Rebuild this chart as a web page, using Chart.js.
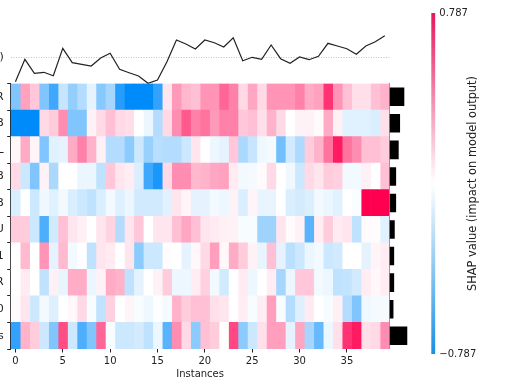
<!DOCTYPE html>
<html>
<head>
<meta charset="utf-8">
<script src="https://cdn.jsdelivr.net/npm/chart.js@4"></script>
<style>
html, body { margin: 0; padding: 0; background: #fff; overflow: hidden; }
#wrap { position: relative; width: 514px; height: 390px; filter: blur(0.3px); }
canvas { position: absolute; }
</style>
</head>
<body>
<div id="wrap">
  <canvas id="lineChart" width="390" height="64" style="left:0;top:20px"></canvas>
  <canvas id="heatChart" width="390" height="320" style="left:0;top:70px"></canvas>
  <canvas id="barChart" width="40" height="266" style="left:389px;top:83px"></canvas>
  <canvas id="colorChart" width="89" height="390" style="left:425px;top:0"></canvas>
</div>
<script>
var shapMax = 0.787;
var rowLabels = ['R', 'B', 'L', 'B', 'B', 'U', '1', 'R', '0', 's'];
var instanceTicks = [0, 5, 10, 15, 20, 25, 30, 35];
var colorbarLabel = 'SHAP value (impact on model output)';

// model output per instance, relative to the base value
var modelOutput = [-2.44, -0.2, -1.6, -1.5, -1.84, 0.9, -0.54, -0.7, -0.87, -0.07,
    0.4, -1.2, -1.54, -1.87, -2.6, -2.27, -0.44, 1.73, 1.33, 0.83,
    1.73, 1.46, 1.03, 1.96, -0.34, 0, -0.2, 1.23, -0.14, -0.6,
    0.03, -0.24, 0.1, 1.4, 1.13, 0.86, 0.3, 1.13, 1.56, 2.16];
var baseValue = 0;

// mean |SHAP| per feature
var meanAbs = [0.15, 0.107, 0.093, 0.067, 0.067, 0.053, 0.047, 0.047, 0.04, 0.18];

// SHAP per instance, as a fraction of shapMax
var row0 = [-0.5, 0.37, 0.22, -0.5, -0.75, -0.22, -0.42, -0.3, -0.1, -0.47, -0.35, -0.85, -1, -1, -1, -0.8, 0.1, 0.4, 0.28, 0.25, 0.42, 0.42, 0.6, 0.5, 0.15, 0.35, 0.15, 0.42, 0.42, 0.42, 0.5, 0.33, 0.37, 0.8, 0.42, 0.25, 0.12, 0.12, 0.25, 0.3];
var row1 = [-1, -1, -1, 0.15, 0.2, 0.45, -0.5, -0.5, 0.05, 0.15, 0.25, 0.15, 0.13, 0, -0.08, -0.3, 0.15, 0.45, 0.65, 0.5, 0.55, 0.4, 0.5, 0.5, 0.22, 0.25, 0.12, 0.3, 0.15, 0, 0.05, 0.05, 0.02, 0.33, 0.05, -0.12, -0.12, -0.12, -0.15, 0.12];
var row2 = [0.03, 0.33, 0.04, -0.5, -0.12, -0.1, 0.33, 0.5, 0.3, 0.06, -0.3, -0.3, -0.45, -0.2, -0.4, -0.28, -0.3, -0.3, -0.2, 0.1, 0, -0.07, -0.1, 0.22, -0.33, -0.22, -0.06, -0.04, -0.55, -0.18, -0.32, 0.2, 0.3, 0.55, 0.9, 0.55, 0.45, 0.25, 0.25, 0.2];
var row3 = [0.15, -0.2, -0.5, 0.05, -0.33, 0, 0, -0.08, -0.08, -0.25, 0.22, 0.1, 0.07, -0.15, -0.75, -0.9, 0.15, 0.45, 0.45, 0.28, 0.3, 0.35, 0.37, 0.08, -0.05, -0.04, 0.02, 0.15, 0, -0.06, -0.2, 0.15, 0.1, 0.2, 0.18, -0.05, -0.05, 0.06, 0, 0.25];
var row4 = [-0.15, 0, -0.2, -0.06, -0.12, -0.05, -0.15, -0.2, -0.25, -0.15, -0.05, -0.13, -0.08, -0.18, -0.18, -0.18, -0.12, 0.1, 0.04, -0.1, -0.1, -0.05, -0.07, 0.05, -0.15, 0.04, -0.09, -0.09, 0, -0.15, -0.17, -0.14, -0.05, -0.08, -0.12, 0, -0.02, 1, 1, 1];
var row5 = [0.2, 0.2, -0.2, -0.7, -0.18, 0.25, 0.1, 0.06, 0, 0.1, 0.17, -0.3, 0.1, 0.22, 0, 0.1, 0.1, 0.25, 0.35, 0.25, 0.1, 0.08, 0.06, 0.05, -0.03, -0.03, -0.38, -0.38, 0.1, 0.02, 0.05, -0.65, 0.07, 0.2, 0.08, 0.1, -0.25, 0.02, 0.01, -0.12];
var row6 = [0, 0.27, 0, 0.42, -0.1, 0.27, -0.05, 0, -0.25, 0.1, 0.08, 0, 0.1, -0.45, -0.2, -0.2, 0.01, 0, -0.1, 0.03, 0.15, 0.38, 0.03, 0.33, 0.2, 0.05, -0.09, 0.25, -0.1, -0.27, -0.2, -0.08, -0.05, -0.2, -0.18, 0, 0, -0.1, 0.04, 0.07];
var row7 = [0, 0.08, 0, -0.25, 0.06, -0.09, 0.32, 0.32, -0.08, 0.05, 0.33, 0.3, -0.25, -0.1, 0, 0.05, 0.2, -0.07, -0.07, 0.07, 0.18, -0.05, -0.18, 0, 0.08, -0.07, 0, 0.07, -0.35, -0.08, 0.22, 0.22, -0.05, -0.07, -0.25, -0.23, -0.18, 0.07, 0.03, 0.07];
var row8 = [0.02, 0.1, -0.2, -0.05, -0.13, 0, 0.03, 0.15, -0.03, -0.25, 0.18, 0, 0.04, -0.03, -0.06, -0.01, -0.04, 0.3, 0.2, 0.25, 0.25, 0.12, 0.1, 0, 0.07, -0.03, 0.07, 0.38, -0.03, -0.3, -0.13, 0.08, 0, -0.03, 0.06, -0.3, -0.5, -0.06, -0.04, -0.04];
var row9 = [-0.8, 0.3, 0.2, -0.2, -0.5, 0.7, -0.2, -0.7, -0.5, 0.6, -0.03, -0.2, -0.2, -0.17, -0.25, -0.07, -0.65, 0.45, 0.15, -0.45, 0.25, 0.2, 0, 0.72, -0.45, -0.2, 0.12, 0.38, 0.38, -0.1, 0.35, -0.35, -0.6, -0.07, 0.12, 0.8, 0.9, 0.12, 0.15, 0.45];
var heatRows = [row0, row1, row2, row3, row4, row5, row6, row7, row8, row9];

Chart.defaults.font.family = '"DejaVu Sans", sans-serif';
Chart.defaults.font.size = 10;
Chart.defaults.color = '#222';
Chart.defaults.animation = false;
Chart.defaults.responsive = false;
Chart.defaults.plugins.legend.display = false;
Chart.defaults.plugins.tooltip.enabled = false;

function shapColor(t) {
    var c = t >= 0 ? [255, 0, 81] : [0, 139, 251];
    var a = Math.min(Math.abs(t), 1);
    return 'rgb(' + c.map(function (v) { return Math.round(255 + (v - 255) * a); }).join(',') + ')';
}

var instances = modelOutput.map(function (v, i) { return i; });

new Chart(document.getElementById('lineChart'), {
    type: 'line',
    data: {
        datasets: [{
            data: instances.map(function (x) { return { x: x, y: modelOutput[x] }; }),
            borderColor: '#222',
            borderWidth: 1.2,
            pointRadius: 0,
            tension: 0
        }]
    },
    options: {
        layout: { padding: { top: 10, right: 0.5 } },
        scales: {
            x: { type: 'linear', min: -0.5, max: 39.5, display: false },
            y: {
                min: -2.67,
                max: 2.73,
                afterFit: function (s) {
                    s.width = 10.7;
                    s.paddingTop = 0;
                    s.paddingBottom = 0;
                },
                afterBuildTicks: function (s) { s.ticks = [{ value: baseValue }]; },
                ticks: {
                    padding: 7,
                    callback: function () { return 'f(x)'; },
                    font: { size: 11 }
                },
                border: { display: false, dash: [1, 1.5] },
                grid: { color: '#aaa', lineWidth: 0.7, drawTicks: false }
            }
        }
    }
});

new Chart(document.getElementById('heatChart'), {
    type: 'bar',
    data: {
        labels: rowLabels,
        datasets: instances.map(function (k) {
            return {
                data: rowLabels.map(function () { return [k - 0.5, k + 0.5]; }),
                backgroundColor: heatRows.map(function (row) { return shapColor(row[k]); }),
                borderWidth: 0,
                barPercentage: 1,
                categoryPercentage: 1,
                grouped: false
            };
        })
    },
    options: {
        indexAxis: 'y',
        layout: { padding: { top: 13.5, bottom: 10, right: 0.5 } },
        scales: {
            x: {
                type: 'linear',
                min: -0.5,
                max: 39.5,
                afterFit: function (s) { s.height = 31; },
                afterBuildTicks: function (s) {
                    s.ticks = instanceTicks.map(function (v) { return { value: v }; });
                },
                ticks: { padding: 3, maxRotation: 0 },
                border: { display: false },
                grid: { drawOnChartArea: false, tickLength: 3.5, color: '#222' },
                title: { display: true, text: 'Instances', padding: 0, font: { size: 10 } }
            },
            y: {
                afterFit: function (s) { s.width = 10.7; },
                ticks: { padding: 3.5, font: { size: 11 } },
                border: { color: '#222' },
                grid: { drawOnChartArea: false, tickLength: 3.5, color: '#222' }
            }
        }
    }
});

new Chart(document.getElementById('barChart'), {
    type: 'bar',
    data: {
        labels: rowLabels,
        datasets: [{
            data: meanAbs,
            backgroundColor: '#000',
            barPercentage: 0.7,
            categoryPercentage: 1
        }]
    },
    options: {
        indexAxis: 'y',
        layout: { padding: { top: 0.5, bottom: 0 } },
        scales: {
            x: { min: 0, max: 0.4, display: false },
            y: {
                afterFit: function (s) { s.width = 0.5; },
                ticks: { display: false },
                grid: { display: false },
                border: { color: '#999' }
            }
        }
    }
});

// chart.js turns a right-hand axis title the other way, so the label is drawn here
var colorbarTitle = {
    id: 'colorbarTitle',
    afterDraw: function (chart) {
        var ctx = chart.ctx;
        ctx.save();
        ctx.translate(48, (chart.chartArea.top + chart.chartArea.bottom) / 2);
        ctx.rotate(-Math.PI / 2);
        ctx.font = '11.4px "DejaVu Sans", sans-serif';
        ctx.fillStyle = '#222';
        ctx.textAlign = 'center';
        ctx.textBaseline = 'middle';
        ctx.fillText(colorbarLabel, 0, 0);
        ctx.restore();
    }
};

new Chart(document.getElementById('colorChart'), {
    type: 'bar',
    data: {
        labels: ['SHAP'],
        datasets: [{
            data: [[-shapMax, shapMax]],
            barPercentage: 1,
            categoryPercentage: 1,
            backgroundColor: function (c) {
                var a = c.chart.chartArea;
                if (!a) return '#fff';
                var g = c.chart.ctx.createLinearGradient(0, a.bottom, 0, a.top);
                g.addColorStop(0, '#1a8fe3');
                g.addColorStop(0.5, '#ffffff');
                g.addColorStop(1, '#e6175f');
                return g;
            }
        }]
    },
    plugins: [colorbarTitle],
    options: {
        layout: { padding: { left: 6.3, top: 13, bottom: 36 } },
        scales: {
            x: { display: false },
            y: {
                position: 'right',
                min: -shapMax,
                max: shapMax,
                afterFit: function (s) {
                    s.width = 78.7;
                    s.paddingTop = 0;
                    s.paddingBottom = 0;
                },
                afterBuildTicks: function (s) {
                    s.ticks = [{ value: -shapMax }, { value: shapMax }];
                },
                ticks: {
                    padding: 4,
                    callback: function (v) { return (v < 0 ? '\u2212' : '') + Math.abs(v).toFixed(3); }
                },
                border: { display: false },
                grid: { display: false, drawTicks: false }
            }
        }
    }
});
</script>
</body>
</html>
